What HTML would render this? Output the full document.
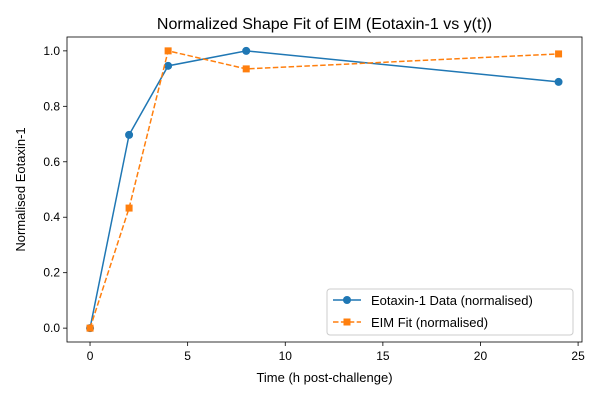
<!DOCTYPE html>
<html><head><meta charset="utf-8"><style>
body{margin:0;background:#fff}
svg text{font-family:"Liberation Sans","DejaVu Sans",sans-serif}
</style></head><body>
<svg id="c" width="600" height="400" xmlns="http://www.w3.org/2000/svg"></svg>
<script>
const times=[0,2,4,8,24];
const eotaxinData=[0,0.697,0.946,1.0,0.888];
const eimFit=[0,0.433,1.0,0.935,0.989];
const xTicks=[0,5,10,15,20,25];
const yTicks=[0.0,0.2,0.4,0.6,0.8,1.0];
const L=67,R=582,T=37,B=342;
const xMin=-1.18,xMax=25.2,yMin=-0.05,yMax=1.05;
const sx=v=>L+(v-xMin)/(xMax-xMin)*(R-L);
const sy=v=>B-(v-yMin)/(yMax-yMin)*(B-T);
const svg=document.getElementById('c');
const NS='http://www.w3.org/2000/svg';
function mk(tag,attrs,parent){const e=document.createElementNS(NS,tag);for(const k in attrs)e.setAttribute(k,attrs[k]);(parent||svg).appendChild(e);return e;}
function txt(s,attrs){const e=mk('text',attrs);e.textContent=s;return e;}
let t=txt('Normalized Shape Fit of EIM (Eotaxin-1 vs y(t))',{x:(L+R)/2,y:29,'text-anchor':'middle','font-size':16});


xTicks.forEach(v=>{const x=sx(v);
 let l=mk('line',{x1:x,x2:x,y1:B,y2:B+4,stroke:'#000','stroke-width':0.8});
 
 
 let s=txt(String(v),{x:x,y:B+18,'text-anchor':'middle','font-size':12});
 
 });
yTicks.forEach(v=>{const y=sy(v);
 let l=mk('line',{x1:L-4,x2:L,y1:y,y2:y,stroke:'#000','stroke-width':0.8});
 
 
 let s=txt(v.toFixed(1),{x:L-7,y:y+4,'text-anchor':'end','font-size':12});
 
 });
let xt=txt('Time (h post-challenge)',{x:(L+R)/2,y:382,'text-anchor':'middle','font-size':13});


let yt=txt('Normalised Eotaxin-1',{x:0,y:0,'text-anchor':'middle','font-size':13,transform:`translate(25,${(T+B)/2}) rotate(-90)`});


// series
const pts=a=>times.map((x,i)=>sx(x)+','+sy(a[i])).join(' ');
let p1=mk('polyline',{points:pts(eotaxinData),fill:'none',stroke:'#1f77b4','stroke-width':1.5});


times.forEach((x,i)=>{let c=mk('circle',{cx:sx(x),cy:sy(eotaxinData[i]),r:4,fill:'#1f77b4'});
 
 });
let p2=mk('polyline',{points:pts(eimFit),fill:'none',stroke:'#ff7f0e','stroke-width':1.5,'stroke-dasharray':'5.5,2.4'});


times.forEach((x,i)=>{let r=mk('rect',{x:sx(x)-3.5,y:sy(eimFit[i])-3.5,width:7,height:7,fill:'#ff7f0e'});
 
 });
let fr=mk('rect',{x:L,y:T,width:R-L,height:B-T,fill:'none',stroke:'#000','stroke-width':0.8});


// legend
const g=mk('g',{});


mk('rect',{x:327,y:289,width:246,height:46,rx:3,fill:'#fff',stroke:'#ccc','stroke-width':1},g);
let e1=mk('g',{},g);


mk('line',{x1:333,x2:361,y1:300,y2:300,stroke:'#1f77b4','stroke-width':1.5},e1);
mk('circle',{cx:347,cy:300,r:4,fill:'#1f77b4'},e1);
let lt1=mk('text',{x:371,y:305,'font-size':13},e1);lt1.textContent='Eotaxin-1 Data (normalised)';
let e2=mk('g',{},g);


mk('line',{x1:333,x2:361,y1:322,y2:322,stroke:'#ff7f0e','stroke-width':1.5,'stroke-dasharray':'5.5,2.4'},e2);
mk('rect',{x:343.5,y:318.5,width:7,height:7,fill:'#ff7f0e'},e2);
let lt2=mk('text',{x:371,y:327,'font-size':13},e2);lt2.textContent='EIM Fit (normalised)';
</script>
</body></html>
